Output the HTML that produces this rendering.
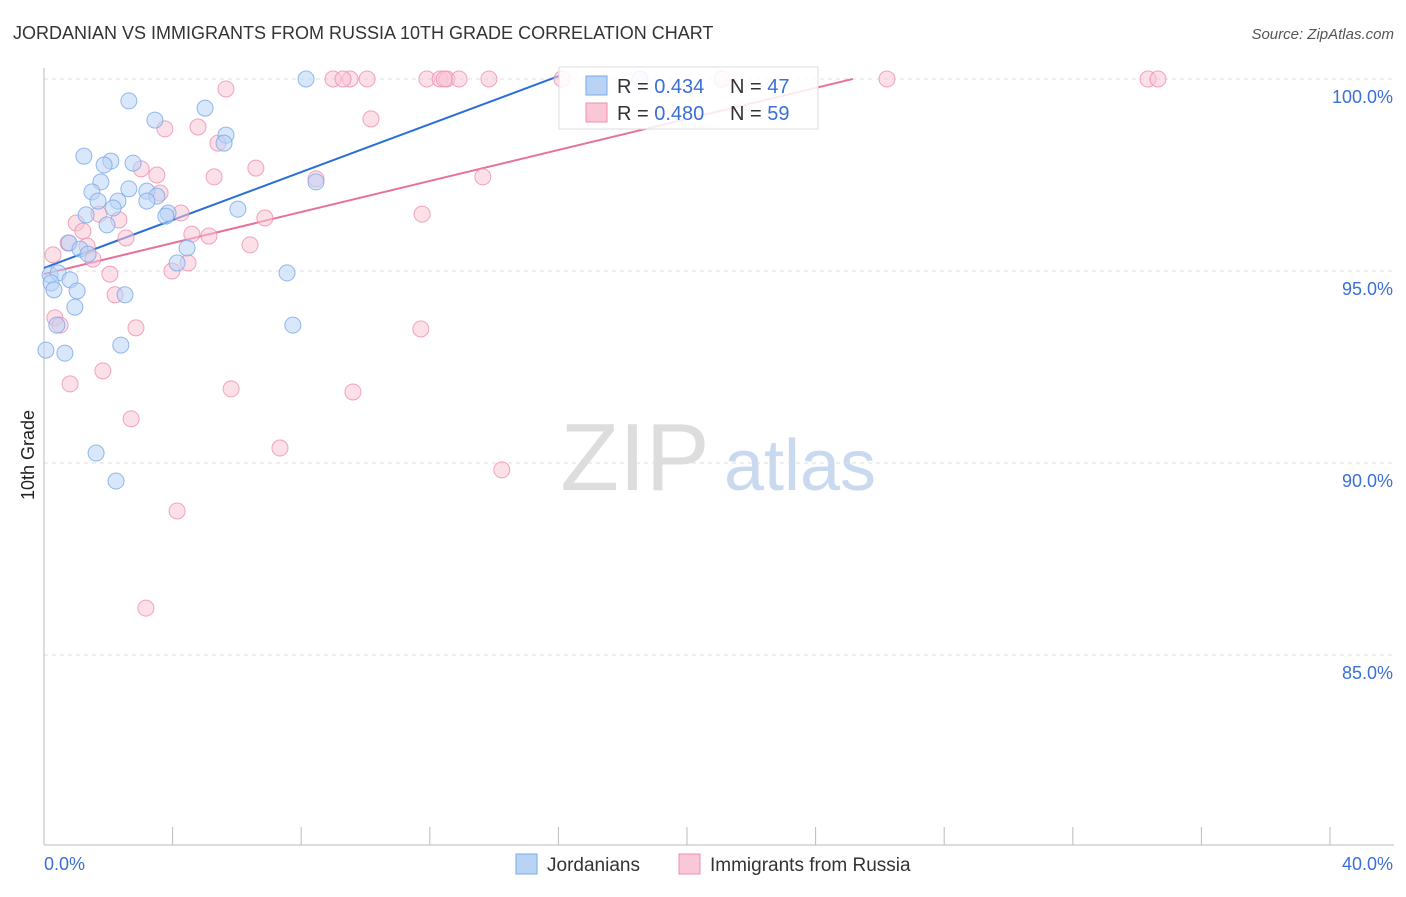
<!DOCTYPE html>
<html><head><meta charset="utf-8">
<style>
body{margin:0;background:#fff;font-family:"Liberation Sans",sans-serif;}
svg text{font-family:"Liberation Sans",sans-serif;}
</style></head>
<body>
<svg id="chart" width="1406" height="892" xmlns="http://www.w3.org/2000/svg">
<text x="13" y="39" font-size="18" fill="#333">JORDANIAN VS IMMIGRANTS FROM RUSSIA 10TH GRADE CORRELATION CHART</text>
<text x="1394" y="39" font-size="15" fill="#555" font-style="italic" text-anchor="end">Source: ZipAtlas.com</text>
<text x="34" y="455" font-size="18" fill="#222" transform="rotate(-90 34 455)" text-anchor="middle">10th Grade</text>
<g>
<text x="635" y="490" font-size="96" fill="#ddd" font-family="Liberation Serif" text-anchor="middle">ZIP</text>
<text x="800" y="490" font-size="72" fill="#c9d9ef" text-anchor="middle">atlas</text>
</g>
<g id="grid"></g><g id="axes"></g><g id="lines"></g><g id="pts"></g>
<g>
<rect x="559" y="67" width="259" height="62" fill="#fff" fill-opacity="0.85" stroke="#ddd"/>
<rect x="586" y="76" width="21" height="19" fill="#b9d3f5" stroke="#7aa8e8"/>
<text x="617" y="93" font-size="20" fill="#333">R = <tspan fill="#3a6fd8">0.434</tspan><tspan x="730">N = </tspan><tspan fill="#3a6fd8">47</tspan></text>
<rect x="586" y="103" width="21" height="19" fill="#f9c7d6" stroke="#ee8fae"/>
<text x="617" y="120" font-size="20" fill="#333">R = <tspan fill="#3a6fd8">0.480</tspan><tspan x="730">N = </tspan><tspan fill="#3a6fd8">59</tspan></text>
</g>
<g>
<rect x="516" y="854" width="21" height="20" fill="#b9d3f5" stroke="#7aa8e8"/>
<text x="547" y="871" font-size="19" fill="#333">Jordanians</text>
<rect x="679" y="854" width="21" height="20" fill="#f9c7d6" stroke="#ee8fae"/>
<text x="710" y="871" font-size="19" fill="#333">Immigrants from Russia</text>
</g>
</svg>
<script>
const xTicks=[0,4,8,12,16,20,24,28,32,36,40];
const yTicks=[85,90,95,100];
const yTickLabels=["85.0%","90.0%","95.0%","100.0%"];
const blueX=[8.15,18.54,2.64,5.01,3.45,5.66,5.60,1.24,2.08,1.87,2.77,8.46,1.77,1.49,2.64,3.20,3.51,1.68,2.30,3.20,2.15,6.03,1.31,3.86,3.79,1.96,0.78,1.12,4.45,1.37,4.14,7.56,0.19,0.44,0.81,0.22,0.31,1.03,2.52,0.96,0.40,7.74,2.39,0.65,0.06,1.62,2.24];
const blueY=[100,100,99.43,99.24,98.93,98.54,98.33,97.99,97.86,97.76,97.81,97.32,97.32,97.06,97.14,97.08,96.95,96.82,96.82,96.82,96.64,96.61,96.46,96.51,96.43,96.20,95.73,95.57,95.60,95.44,95.21,94.95,94.90,94.95,94.77,94.69,94.51,94.48,94.38,94.06,93.59,93.59,93.07,92.86,92.94,90.26,89.53];
const pinkX=[8.99,9.52,10.05,11.91,12.32,12.53,12.91,13.84,16.11,21.09,26.22,34.34,34.65,12.45,9.3,5.66,10.17,3.76,4.79,5.41,6.59,3.02,3.51,5.29,8.46,13.65,3.61,4.26,6.87,11.76,1.71,1.00,2.33,1.21,4.60,5.13,2.55,0.75,6.41,1.34,0.28,1.52,4.48,3.98,2.05,2.21,0.34,0.50,2.86,11.72,1.83,0.81,5.82,9.61,2.71,7.34,14.24,4.14,3.17];
const pinkY=[100,100,100,100,100,100,100,100,100,100,100,100,100,100,100,99.74,98.96,98.70,98.75,98.33,97.68,97.66,97.50,97.45,97.40,97.45,97.03,96.51,96.38,96.48,96.48,96.25,96.33,96.04,95.96,95.91,95.86,95.73,95.68,95.65,95.42,95.31,95.21,95.00,94.92,94.38,93.78,93.59,93.52,93.49,92.40,92.06,91.93,91.85,91.15,90.39,89.82,88.75,86.22];
const blueTrend=[95.08,0.312]; // intercept, slope
const pinkTrend=[94.92,0.202];
const blueTrendEnd=16.02, pinkTrendEnd=25.16;

const X0=44,X1=1330,Y100=79,PX5=192;
const sx=v=>X0+(v/40)*(X1-X0);
const sy=v=>Y100+(100-v)/5*PX5;
const NS="http://www.w3.org/2000/svg";
function mk(tag,attrs,parent){const e=document.createElementNS(NS,tag);for(const k in attrs)e.setAttribute(k,attrs[k]);document.getElementById(parent).appendChild(e);return e;}

yTicks.forEach((t,i)=>{
 const g=mk('line',{x1:X0,x2:1394,y1:sy(t),y2:sy(t),stroke:'#ddd','stroke-dasharray':'4,4'},'grid');
 
 
 const l=mk('text',{x:1393,y:sy(t)+24,'font-size':18,fill:'#3a6fd8','text-anchor':'end'},'grid');
 l.textContent=yTickLabels[i];
 
 
});
const ax=mk('line',{x1:X0,x2:1394,y1:845,y2:845,stroke:'#bbb'},'axes');


const ay=mk('line',{x1:X0,x2:X0,y1:68,y2:845,stroke:'#bbb'},'axes');


xTicks.forEach(t=>{
 const k=mk('line',{x1:sx(t),x2:sx(t),y1:827,y2:845,stroke:'#bbb'},'axes');
 
 
});
const xl0=mk('text',{x:44,y:870,'font-size':18,fill:'#3a6fd8'},'axes');xl0.textContent='0.0%';


const xl1=mk('text',{x:1393,y:870,'font-size':18,fill:'#3a6fd8','text-anchor':'end'},'axes');xl1.textContent='40.0%';



function pts(xs,ys,fill,stroke,name){
 xs.forEach((x,i)=>{
  const c=mk('circle',{cx:sx(x),cy:sy(ys[i]),r:8,fill:fill,'fill-opacity':0.55,stroke:stroke,'stroke-opacity':0.8},'pts');
  
  
 });
}
pts(pinkX,pinkY,'#f9c7d6','#ee8fae','point-russia');
pts(blueX,blueY,'#b9d3f5','#7aa8e8','point-jordanian');
function trend(p,end,color,name){
 const l=mk('line',{x1:sx(0),y1:sy(p[0]),x2:sx(end),y2:sy(p[0]+p[1]*end),stroke:color,'stroke-width':2},'lines');
 
 
}
trend(pinkTrend,pinkTrendEnd,'#e8709a','trend-russia');
trend(blueTrend,blueTrendEnd,'#2a6fd8','trend-jordanian');
</script>
</body></html>
